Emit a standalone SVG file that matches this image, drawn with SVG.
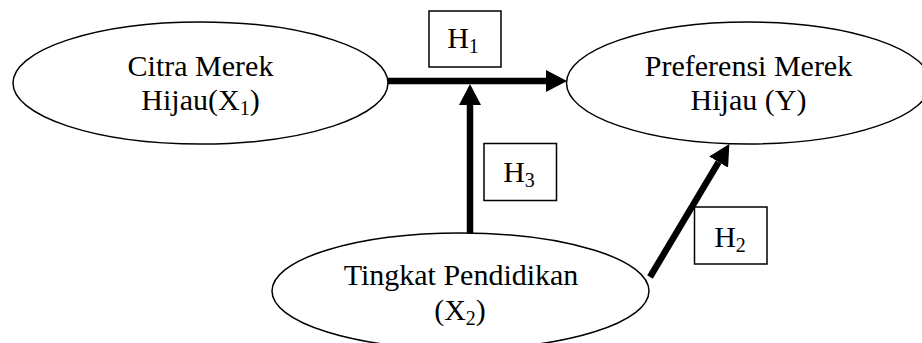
<svg xmlns="http://www.w3.org/2000/svg" width="922" height="343" viewBox="0 0 922 343">
<style>
.node ellipse{fill:#fff;stroke:#000;stroke-width:1.5}
.box{fill:#fff;stroke:#000;stroke-width:1.5}
text{font-family:"Liberation Serif","Times New Roman",serif;font-size:30px;fill:#000;text-anchor:middle}
.sub{font-size:20px}
.conn line{stroke:#000;stroke-width:6.5;stroke-linecap:butt}
</style>
<defs>
<marker id="ah" markerUnits="userSpaceOnUse" viewBox="0 0 21 22" refX="0" refY="11" markerWidth="21" markerHeight="22" orient="auto">
<path d="M0,0 L21,11 L0,22 z" fill="#000"/>
</marker>
</defs>
<rect width="922" height="343" fill="#fff"/>
<g id="connectors" class="conn">
<line x1="388" y1="81" x2="546" y2="81" marker-end="url(#ah)"/>
<line x1="470" y1="233" x2="470" y2="105" marker-end="url(#ah)"/>
<line x1="650" y1="277" x2="718.6" y2="162.1" marker-end="url(#ah)"/>
</g>
<g id="citra" class="node">
<ellipse cx="200.5" cy="83" rx="187.5" ry="61"/>
<text x="200.5" y="76">Citra Merek</text>
<text x="200.5" y="110">Hijau(X<tspan class="sub" dy="5">1</tspan><tspan dy="-5">)</tspan></text>
</g>
<g id="preferensi" class="node">
<ellipse cx="748.5" cy="83" rx="182" ry="61"/>
<text x="748.5" y="76">Preferensi Merek</text>
<text x="748.5" y="110">Hijau (Y)</text>
</g>
<g id="pendidikan" class="node">
<ellipse cx="460.5" cy="291" rx="188.5" ry="58"/>
<text x="461" y="285">Tingkat Pendidikan</text>
<text x="460" y="320">(X<tspan class="sub" dy="5">2</tspan><tspan dy="-5">)</tspan></text>
</g>
<g id="h1">
<rect class="box" x="429" y="11" width="72" height="56"/>
<text x="463" y="48">H<tspan class="sub" dy="5">1</tspan></text>
</g>
<g id="h3">
<rect class="box" x="484" y="143.5" width="72.5" height="57"/>
<text x="519" y="182">H<tspan class="sub" dy="5">3</tspan></text>
</g>
<g id="h2">
<rect class="box" x="694.5" y="207" width="72.5" height="57"/>
<text x="730" y="247">H<tspan class="sub" dy="5">2</tspan></text>
</g>
</svg>
